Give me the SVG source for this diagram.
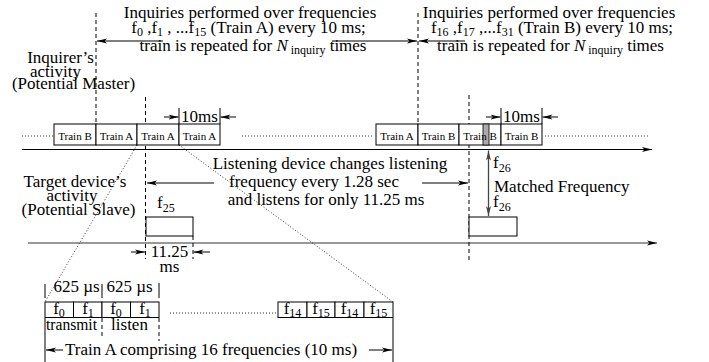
<svg xmlns="http://www.w3.org/2000/svg" width="709" height="362" viewBox="0 0 709 362">
<defs>
<style>
text{font-family:"Liberation Serif","Times New Roman",serif;font-size:17px;fill:#000}
.bl{font-size:11px}
.sub{font-size:12px}
.box{fill:#fff;stroke:#000;stroke-width:1}
.ln{stroke:#000;stroke-width:1;fill:none}
.dash{stroke:#000;stroke-width:1;stroke-dasharray:4,3;fill:none}
.dot{stroke:#000;stroke-width:0.8;stroke-dasharray:1,2;fill:none}
.arr{stroke:#000;stroke-width:1;fill:none;marker-end:url(#ah)}
</style>
<marker id="ah" viewBox="0 0 10 6" refX="10" refY="3" markerWidth="10" markerHeight="6" markerUnits="userSpaceOnUse" orient="auto-start-reverse"><path d="M0,0.5 L10,3 L0,5.5 L2.5,3 z" fill="#000"/></marker>
<marker id="ahg" viewBox="0 0 10 6" refX="10" refY="3" markerWidth="10" markerHeight="6" markerUnits="userSpaceOnUse" orient="auto-start-reverse"><path d="M0,0.5 L10,3 L0,5.5 L2.5,3 z" fill="#444"/></marker>
</defs>
<rect width="709" height="362" fill="#fff"/>

<g id="connectors">
<!-- time axes -->
<line x1="22" y1="149.5" x2="652" y2="149.5" class="arr"/>
<line x1="28" y1="243" x2="657" y2="243" class="arr" style="stroke:#333"/>
<!-- dashed markers -->
<line x1="96" y1="13" x2="96" y2="124" class="dash"/>
<line x1="145.5" y1="97" x2="145.5" y2="259" class="dash"/>
<line x1="193" y1="236" x2="193" y2="259" class="dash"/>
<line x1="418" y1="13" x2="418" y2="124" class="dash"/>
<line x1="469" y1="95" x2="469" y2="260" class="dash"/>
<!-- top arrows -->
<line x1="163" y1="41" x2="97" y2="41" class="arr"/>
<line x1="332" y1="41" x2="417" y2="41" class="arr"/>
<line x1="465" y1="41" x2="419" y2="41" class="arr"/>
<!-- middle arrows -->
<line x1="214" y1="183" x2="147" y2="183" class="arr"/>
<line x1="422" y1="183" x2="468" y2="183" class="arr"/>
<!-- 10ms dims -->
<line x1="179" y1="108" x2="179" y2="124" class="ln"/>
<line x1="220" y1="108" x2="220" y2="124" class="ln"/>
<line x1="164" y1="117" x2="178.5" y2="117" class="arr"/>
<line x1="236" y1="117" x2="220.5" y2="117" class="arr"/>
<line x1="501" y1="108" x2="501" y2="124" class="ln"/>
<line x1="542" y1="108" x2="542" y2="124" class="ln"/>
<line x1="486" y1="117" x2="500.5" y2="117" class="arr"/>
<line x1="558" y1="117" x2="542.5" y2="117" class="arr"/>
<!-- 11.25 dims -->
<line x1="131" y1="252" x2="145" y2="252" class="arr"/>
<line x1="210" y1="252" x2="193.5" y2="252" class="arr"/>
<!-- matched frequency -->
<line x1="488.5" y1="216" x2="488.5" y2="150.5" stroke="#444" stroke-width="1.3" marker-start="url(#ahg)" marker-end="url(#ahg)"/>
<!-- dotted lines -->
<line x1="22" y1="136" x2="54" y2="136" class="dot"/>
<line x1="242" y1="136" x2="373" y2="136" class="dot"/>
<line x1="545" y1="136" x2="650" y2="136" class="dot"/>
<line x1="137" y1="145" x2="45" y2="302" class="dot"/>
<line x1="179" y1="145" x2="393" y2="302" class="dot"/>
<line x1="170" y1="313" x2="278" y2="313" class="dot"/>
<!-- expanded view ticks -->
<line x1="45" y1="284" x2="45" y2="298" class="ln"/>
<line x1="102" y1="284" x2="102" y2="298" class="ln"/>
<line x1="159" y1="283" x2="159" y2="298" class="ln"/>
<line x1="102" y1="318" x2="102" y2="339" class="dash"/>
<line x1="159" y1="318" x2="159" y2="341" class="dash"/>
<line x1="45" y1="318" x2="45" y2="362" class="ln"/>
<line x1="393" y1="318" x2="393" y2="362" class="ln"/>
<line x1="63" y1="350" x2="46" y2="350" class="arr"/>
<line x1="369" y1="350" x2="392" y2="350" class="arr"/>
</g>

<g id="title-left">
<text x="250" y="18" text-anchor="middle">Inquiries performed over frequencies</text>
<text x="248.5" y="33" text-anchor="middle">f<tspan class="sub" dy="3">0</tspan><tspan dy="-3"> ,f</tspan><tspan class="sub" dy="3">1</tspan><tspan dy="-3"> , ...f</tspan><tspan class="sub" dy="3">15</tspan><tspan dy="-3"> (Train A) every 10 ms;</tspan></text>
<text x="253" y="51" text-anchor="middle">train is repeated for  <tspan font-style="italic">N</tspan><tspan class="sub" dy="3"> inquiry</tspan><tspan dy="-3">  times</tspan></text>
</g>

<g id="title-right">
<text x="549" y="18" text-anchor="middle">Inquiries performed over frequencies</text>
<text x="552" y="33" text-anchor="middle">f<tspan class="sub" dy="3">16</tspan><tspan dy="-3"> ,f</tspan><tspan class="sub" dy="3">17</tspan><tspan dy="-3"> ,...f</tspan><tspan class="sub" dy="3">31</tspan><tspan dy="-3"> (Train B) every 10 ms;</tspan></text>
<text x="550.5" y="51" text-anchor="middle">train is repeated for  <tspan font-style="italic">N</tspan><tspan class="sub" dy="3"> inquiry</tspan><tspan dy="-3">  times</tspan></text>
</g>

<g id="master-label">
<text x="60.5" y="63" text-anchor="middle">Inquirer’s</text>
<text x="55.5" y="77" text-anchor="middle">activity</text>
<text x="73.5" y="89" text-anchor="middle">(Potential Master)</text>
</g>

<g id="slave-label">
<text x="75" y="187" text-anchor="middle">Target device’s</text>
<text x="72" y="201" text-anchor="middle">activity</text>
<text x="78.5" y="215" text-anchor="middle">(Potential Slave)</text>
</g>

<g id="trains-left">
<rect x="54" y="124" width="42" height="21" class="box"/>
<rect x="96" y="124" width="41" height="21" class="box"/>
<rect x="137" y="124" width="42" height="21" class="box"/>
<rect x="179" y="124" width="41" height="21" class="box"/>
<text x="75" y="140" text-anchor="middle" class="bl">Train B</text>
<text x="116.5" y="140" text-anchor="middle" class="bl">Train A</text>
<text x="158" y="140" text-anchor="middle" class="bl">Train A</text>
<text x="199.5" y="140" text-anchor="middle" class="bl">Train A</text>
</g>

<g id="trains-right">
<rect x="376" y="124" width="42" height="21" class="box"/>
<rect x="418" y="124" width="41" height="21" class="box"/>
<rect x="459" y="124" width="42" height="21" class="box"/>
<rect x="483" y="124" width="6" height="21" fill="#aaa" stroke="#000" stroke-width="0.8"/>
<rect x="501" y="124" width="41" height="21" class="box"/>
<text x="397" y="140" text-anchor="middle" class="bl">Train A</text>
<text x="438.5" y="140" text-anchor="middle" class="bl">Train B</text>
<text x="480" y="140" text-anchor="middle" class="bl">Train B</text>
<text x="521.5" y="140" text-anchor="middle" class="bl">Train B</text>
</g>

<g id="ten-ms">
<text x="199.5" y="122" text-anchor="middle">10ms</text>
<text x="521.5" y="122" text-anchor="middle">10ms</text>
</g>

<g id="listening-note">
<text x="330" y="169" text-anchor="middle">Listening device changes listening</text>
<text x="314" y="187" text-anchor="middle">frequency every 1.28 sec</text>
<text x="326" y="205" text-anchor="middle">and listens for only 11.25 ms</text>
</g>

<g id="slave-f25">
<rect x="146" y="217" width="47" height="19" class="box"/>
<text x="157" y="208">f<tspan class="sub" dy="4">25</tspan></text>
<text x="169.5" y="257" text-anchor="middle">11.25</text>
<text x="169.5" y="272" text-anchor="middle">ms</text>
</g>

<g id="slave-f26">
<rect x="469" y="217" width="48" height="19" class="box"/>
<text x="493" y="207">f<tspan class="sub" dy="4">26</tspan></text>
</g>

<g id="matched">
<text x="493" y="168">f<tspan class="sub" dy="4">26</tspan></text>
<text x="494" y="192">Matched Frequency</text>
</g>

<g id="expanded-train">
<rect x="45" y="302" width="28.5" height="15.5" class="box"/>
<rect x="73.5" y="302" width="28.5" height="15.5" class="box"/>
<rect x="102" y="302" width="28.5" height="15.5" class="box"/>
<rect x="130.5" y="302" width="28.5" height="15.5" class="box"/>
<rect x="278" y="302" width="29" height="15.5" class="box"/>
<rect x="307" y="302" width="28" height="15.5" class="box"/>
<rect x="335" y="302" width="29" height="15.5" class="box"/>
<rect x="364" y="302" width="29" height="15.5" class="box"/>
<text x="59" y="314" text-anchor="middle">f<tspan class="sub" dy="3">0</tspan></text>
<text x="88" y="314" text-anchor="middle">f<tspan class="sub" dy="3">1</tspan></text>
<text x="116" y="314" text-anchor="middle">f<tspan class="sub" dy="3">0</tspan></text>
<text x="145" y="314" text-anchor="middle">f<tspan class="sub" dy="3">1</tspan></text>
<text x="292.5" y="314" text-anchor="middle">f<tspan class="sub" dy="3">14</tspan></text>
<text x="321" y="314" text-anchor="middle">f<tspan class="sub" dy="3">15</tspan></text>
<text x="349.5" y="314" text-anchor="middle">f<tspan class="sub" dy="3">14</tspan></text>
<text x="378.5" y="314" text-anchor="middle">f<tspan class="sub" dy="3">15</tspan></text>
<text x="76.5" y="292" text-anchor="middle">625 µs</text>
<text x="129.5" y="292" text-anchor="middle">625 µs</text>
<text x="46" y="330" textLength="51" lengthAdjust="spacingAndGlyphs">transmit</text>
<text x="129.5" y="330" text-anchor="middle">listen</text>
<text x="211" y="355" text-anchor="middle">Train A comprising 16 frequencies (10 ms)</text>
</g>
</svg>
